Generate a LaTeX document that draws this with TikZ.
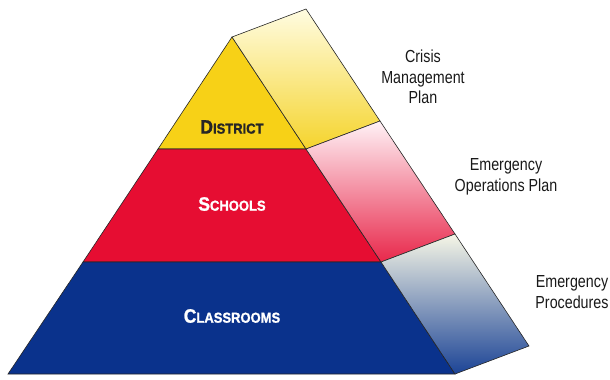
\documentclass[tikz,border=0pt]{standalone}
\usepackage{fontspec}
\setmainfont{Liberation Sans}
\newfontfamily\narrowfont[FakeStretch=0.82]{Liberation Sans}
\newfontfamily\heavyfont[FakeStretch=0.9, FakeBold=1.2]{Liberation Sans Bold}
\usetikzlibrary{positioning}

\definecolor{districtyellow}{RGB}{247,209,23}
\definecolor{schoolsred}{RGB}{230,13,50}
\definecolor{classroomsblue}{RGB}{10,50,140}

\newcommand{\smcaps}[2]{{\fontsize{19.5}{19.5}\selectfont #1}{\fontsize{14.5}{14.5}\selectfont #2}}

\begin{document}
\begin{tikzpicture}[x=1bp, y=-1bp,
    face/.style={draw=black!85, line width=0.6bp},
    layerlabel/.style={inner sep=0pt, font=\heavyfont},
    planlabel/.style={inner sep=0pt, align=center, text=black!90, font=\narrowfont\fontsize{17.5}{20.5}\selectfont}]
    \useasboundingbox (0,0) rectangle (610,379);

    % Corners of the front faces
    \coordinate (apex) at (232,37);
    \coordinate (dl) at (158,149);
    \coordinate (dr) at (306,149);
    \coordinate (sl) at (83,262);
    \coordinate (sr) at (381,262);
    \coordinate (bl) at (8,374);
    \coordinate (br) at (455,374);

    % Corners of the side face
    \coordinate (apexb) at (306,9);
    \coordinate (drb) at (380,121);
    \coordinate (srb) at (455,234);
    \coordinate (brb) at (529,346);

    % Front faces
    \draw[face, fill=districtyellow] (apex) -- (dr) -- (dl) -- cycle;
    \draw[face, fill=schoolsred] (dl) -- (dr) -- (sr) -- (sl) -- cycle;
    \draw[face, fill=classroomsblue] (sl) -- (sr) -- (br) -- (bl) -- cycle;

    % Side faces
    \shadedraw[face, top color={rgb,255:red,255;green,252;blue,225}, bottom color={rgb,255:red,245;green,212;blue,45}]
        (apex) -- (apexb) -- (drb) -- (dr) -- cycle;
    \shadedraw[face, top color={rgb,255:red,255;green,242;blue,246}, bottom color={rgb,255:red,232;green,40;blue,75}]
        (dr) -- (drb) -- (srb) -- (sr) -- cycle;
    \shadedraw[face, top color={rgb,255:red,246;green,246;blue,230}, bottom color={rgb,255:red,28;green,68;blue,150}]
        (sr) -- (srb) -- (brb) -- (br) -- cycle;

    % Layer labels
    \node[layerlabel, text=black!85] (district) at (232,127) {\smcaps{D}{ISTRICT}};
    \node[layerlabel, text=white] (schools) at (232,204) {\smcaps{S}{CHOOLS}};
    \node[layerlabel, text=white] (classrooms) at (232,316) {\smcaps{C}{LASSROOMS}};

    % Plan labels
    \node[planlabel] (crisis) at (423,77) {Crisis\\Management\\Plan};
    \node[planlabel] (operations) at (506,177) {Emergency\\Operations Plan};
    \node[planlabel] (procedures) at (572,292) {Emergency\\Procedures};
\end{tikzpicture}
\end{document}
